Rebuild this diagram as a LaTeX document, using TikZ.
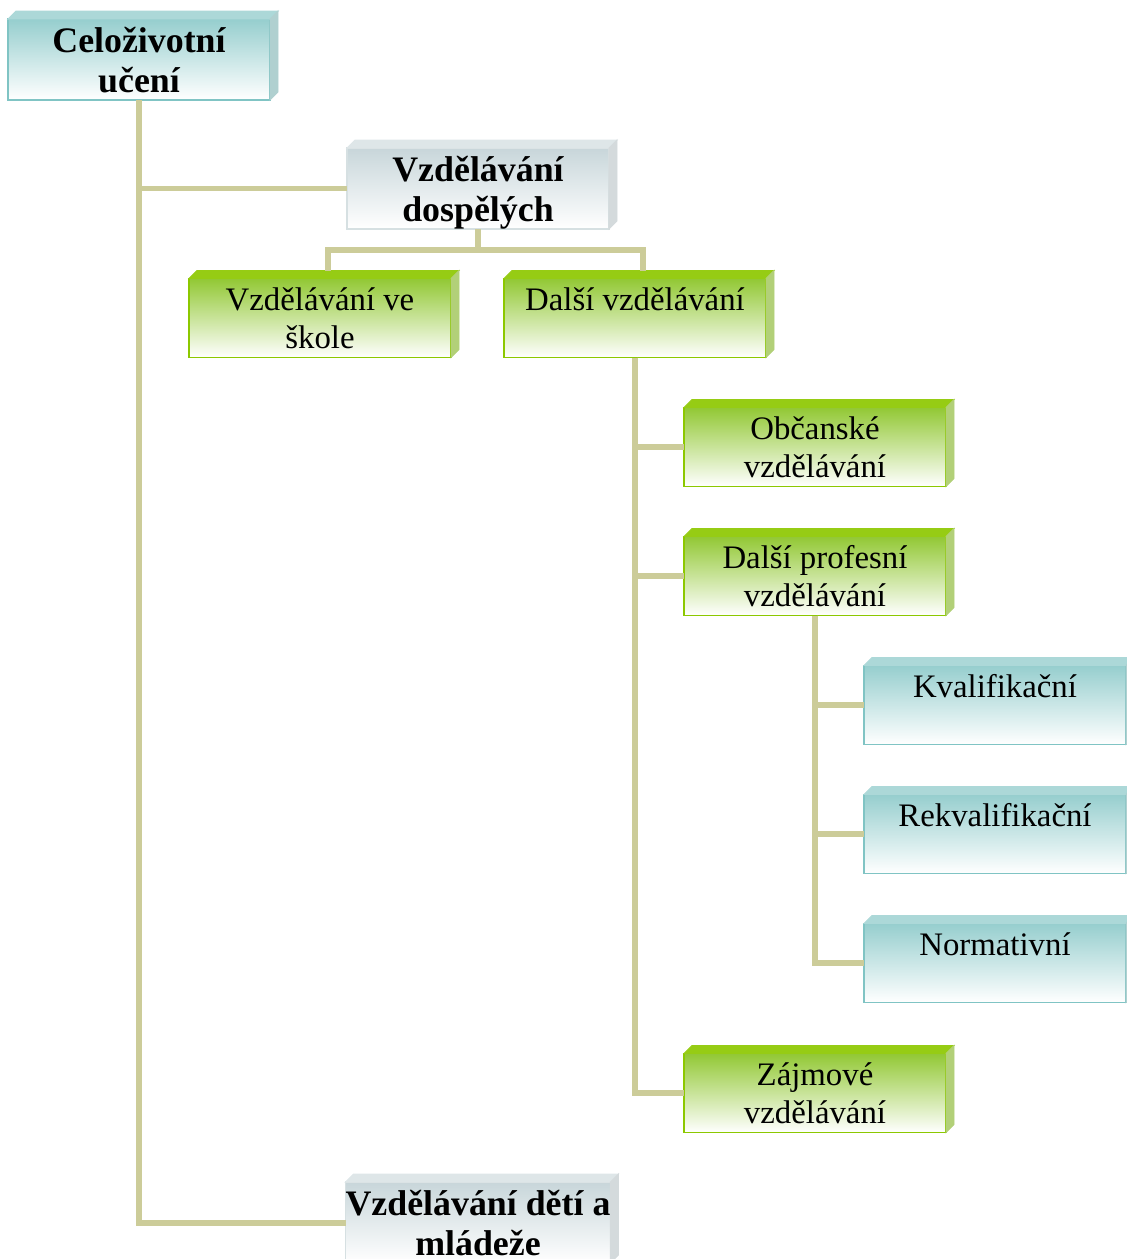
\documentclass[tikz,border=0pt]{standalone}
\usepackage{fontspec}
\setmainfont{Liberation Serif}
\usetikzlibrary{calc}
\definecolor{connc}{RGB}{204,204,153}
\definecolor{tealtop}{RGB}{150,206,206}
\definecolor{tealbd}{RGB}{128,196,196}
\definecolor{tealface}{RGB}{172,216,216}
\definecolor{tealside}{RGB}{176,208,208}
\definecolor{greentop}{RGB}{146,200,52}
\definecolor{greenbd}{RGB}{140,200,0}
\definecolor{greenface}{RGB}{150,204,20}
\definecolor{greenside}{RGB}{178,208,120}
\definecolor{graytop}{RGB}{200,214,218}
\definecolor{graybd}{RGB}{214,224,226}
\definecolor{grayface}{RGB}{222,230,232}
\definecolor{grayside}{RGB}{212,218,220}
\tikzset{
  conn/.style={draw=connc, line width=5.1pt},
  frontbox/.style={rectangle, minimum width=7.86cm, minimum height=2.37cm, inner sep=0pt, outer sep=0pt, align=center, line width=1.3pt},
  tealbox/.style={frontbox, draw=tealbd, top color=tealtop, bottom color=white},
  greenbox/.style={frontbox, draw=greenbd, top color=greentop, bottom color=white},
  graybox/.style={frontbox, draw=graybd, top color=graytop, bottom color=white},
  boldtxt/.style={font=\fontsize{30.6}{34.5}\selectfont\bfseries},
  regtxt/.style={font=\fontsize{28}{32.3}\selectfont},
}
\newcommand{\lowtext}[1]{\raisebox{-0.15cm}[\height][\depth]{\begin{tabular}{@{}c@{}}#1\end{tabular}}}
\newcommand{\boxfaces}[3]{%
  \filldraw[fill=#2, draw=#2, line width=0.8pt] (#1.north west) -- ++(8,-8) -- ($(#1.north east)+(8,-8)$) -- (#1.north east) -- cycle;
  \filldraw[fill=#3, draw=#3, line width=0.8pt] (#1.north east) -- ++(8,-8) -- ($(#1.south east)+(8,-8)$) -- (#1.south east) -- cycle;
}
\begin{document}
\begin{tikzpicture}[x=0.03cm, y=-0.03cm]
\useasboundingbox (0,0) rectangle (1127,1259);
% nodes
\node[tealbox, boldtxt] (c1) at (139,59.5) {\lowtext{Celoživotní\\učení}};
\node[graybox, boldtxt] (da) at (478,188.5) {\lowtext{Vzdělávání\\dospělých}};
\node[greenbox, regtxt] (vs) at (320,318) {Vzdělávání ve\\škole};
\node[greenbox, regtxt] (dv) at (635,318) {Další vzdělávání\\\phantom{X}};
\node[greenbox, regtxt] (ob) at (815,447) {Občanské\\vzdělávání};
\node[greenbox, regtxt] (dp) at (815,576) {Další profesní\\vzdělávání};
\node[tealbox, regtxt] (kv) at (995,705) {Kvalifikační\\\phantom{X}};
\node[tealbox, regtxt] (rk) at (995,834) {Rekvalifikační\\\phantom{X}};
\node[tealbox, regtxt] (nm) at (995,963) {Normativní\\\phantom{X}};
\node[greenbox, regtxt] (zv) at (815,1093) {Zájmové\\vzdělávání};
\node[graybox, boldtxt] (dm) at (478,1222.5) {\lowtext{Vzdělávání dětí a\\mládeže}};
% 3D faces
\boxfaces{c1}{tealface}{tealside}
\boxfaces{da}{grayface}{grayside}
\boxfaces{vs}{greenface}{greenside}
\boxfaces{dv}{greenface}{greenside}
\boxfaces{ob}{greenface}{greenside}
\boxfaces{dp}{greenface}{greenside}
\boxfaces{kv}{tealface}{tealside}
\boxfaces{rk}{tealface}{tealside}
\boxfaces{nm}{tealface}{tealside}
\boxfaces{zv}{greenface}{greenside}
\boxfaces{dm}{grayface}{grayside}
% connectors
\draw[conn] (c1.south) |- (da.west);
\draw[conn] (c1.south) |- (dm.west);
\coordinate (vsT) at ($(vs.north)+(8,-8)$);
\coordinate (dvT) at ($(dv.north)+(8,-8)$);
\coordinate (dj) at ($(da.south)+(0,21)$);
\draw[conn] (da.south) -- (dj);
\draw[conn] (vsT) |- (dj) -| (dvT);
\draw[conn] (dv.south) |- (ob.west);
\draw[conn] (dv.south) |- (dp.west);
\draw[conn] (dv.south) |- (zv.west);
\draw[conn] (dp.south) |- (kv.west);
\draw[conn] (dp.south) |- (rk.west);
\draw[conn] (dp.south) |- (nm.west);
\end{tikzpicture}
\end{document}
